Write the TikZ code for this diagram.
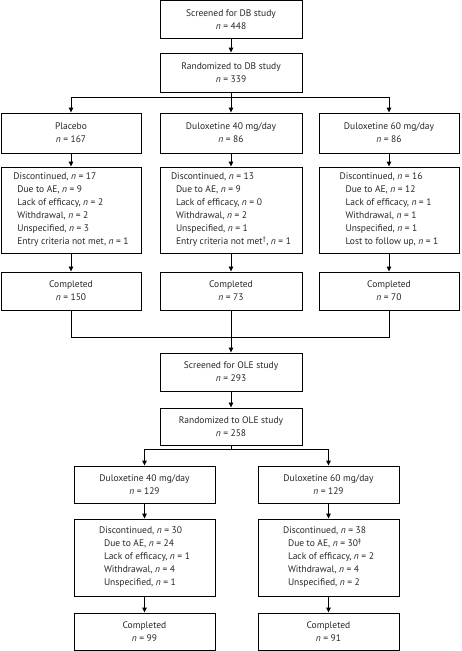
\documentclass[tikz,border=0pt]{standalone}
\usepackage{fontspec}
\setmainfont{PT Sans}
\usetikzlibrary{arrows.meta}
\begin{document}
\begin{tikzpicture}[x=1pt,y=-1pt,
  box/.style={draw=black,line width=0.9pt,text=black!85,font=\fontsize{9.5}{13}\selectfont,align=center,inner sep=0pt,minimum height=38pt},
  lbox/.style={box,align=left},
  con/.style={line width=0.9pt},
  arr/.style={con,-{Triangle[length=5pt,width=4.5pt]}}]
\useasboundingbox (0,0) rectangle (461,651);
\newcommand{\nn}{\textit{n}}
% DB study
\node[box,minimum width=142pt] (s1) at (231,19.5) {Screened for DB study\\\nn{} = 448};
\node[box,minimum width=142pt,minimum height=39pt] (r1) at (231,72.5) {Randomized to DB study\\\nn{} = 339};
\node[box,minimum width=140pt,minimum height=40pt] (p) at (71,133) {Placebo\\\nn{} = 167};
\node[box,minimum width=142pt,minimum height=40pt] (a40) at (231,133) {Duloxetine 40 mg/day\\\nn{} = 86};
\node[box,minimum width=140pt,minimum height=40pt] (a60) at (389,133) {Duloxetine 60 mg/day\\\nn{} = 86};
\node[lbox,minimum width=140pt,minimum height=86pt] (pd) at (71,210) {Discontinued, \nn{} = 17\\\hspace*{4pt}Due to AE, \nn{} = 9\\\hspace*{4pt}Lack of efficacy, \nn{} = 2\\\hspace*{4pt}Withdrawal, \nn{} = 2\\\hspace*{4pt}Unspecified, \nn{} = 3\\\hspace*{4pt}Entry criteria not met, \nn{} = 1};
\node[lbox,minimum width=142pt,minimum height=86pt] (d40) at (231,210) {Discontinued, \nn{} = 13\\\hspace*{5pt}Due to AE, \nn{} = 9\\\hspace*{5pt}Lack of efficacy, \nn{} = 0\\\hspace*{5pt}Withdrawal, \nn{} = 2\\\hspace*{5pt}Unspecified, \nn{} = 1\\\hspace*{5pt}Entry criteria not met\textsuperscript{†}, \nn{} = 1};
\node[lbox,minimum width=140pt,minimum height=86pt] (d60) at (389,210) {Discontinued, \nn{} = 16\\\hspace*{6pt}Due to AE, \nn{} = 12\\\hspace*{6pt}Lack of efficacy, \nn{} = 1\\\hspace*{6pt}Withdrawal, \nn{} = 1\\\hspace*{6pt}Unspecified, \nn{} = 1\\\hspace*{6pt}Lost to follow up, \nn{} = 1};
\node[box,minimum width=140pt] (pc) at (71,291) {Completed\\\nn{} = 150};
\node[box,minimum width=142pt] (c40) at (231,291) {Completed\\\nn{} = 73};
\node[box,minimum width=140pt] (c60) at (389,291) {Completed\\\nn{} = 70};
% OLE study
\node[box,minimum width=142pt] (so) at (231,372) {Screened for OLE study\\\nn{} = 293};
\node[box,minimum width=142pt,minimum height=37pt] (ro) at (231,426.5) {Randomized to OLE study\\\nn{} = 258};
\node[box,minimum width=141pt,minimum height=37pt] (o40) at (144.5,484.5) {Duloxetine 40 mg/day\\\nn{} = 129};
\node[box,minimum width=141pt,minimum height=37pt] (o60) at (328.5,484.5) {Duloxetine 60 mg/day\\\nn{} = 129};
\node[lbox,minimum width=141pt,minimum height=77pt] (od40) at (144.5,557.5) {Discontinued, \nn{} = 30\\\hspace*{5pt}Due to AE, \nn{} = 24\\\hspace*{5pt}Lack of efficacy, \nn{} = 1\\\hspace*{5pt}Withdrawal, \nn{} = 4\\\hspace*{5pt}Unspecified, \nn{} = 1};
\node[lbox,minimum width=141pt,minimum height=77pt] (od60) at (328.5,557.5) {Discontinued, \nn{} = 38\\\hspace*{5pt}Due to AE, \nn{} = 30\textsuperscript{‡}\\\hspace*{5pt}Lack of efficacy, \nn{} = 2\\\hspace*{5pt}Withdrawal, \nn{} = 4\\\hspace*{5pt}Unspecified, \nn{} = 2};
\node[box,minimum width=141pt,minimum height=37pt] (oc40) at (144.5,631.5) {Completed\\\nn{} = 99};
\node[box,minimum width=141pt,minimum height=37pt] (oc60) at (328.5,631.5) {Completed\\\nn{} = 91};
% connectors
\coordinate (b1) at (231,97);
\coordinate (b1l) at (71,97);
\coordinate (b1r) at (389,97);
\coordinate (j1) at (231,337);
\coordinate (j1l) at (71,337);
\coordinate (j1r) at (389,337);
\coordinate (b2) at (231,449);
\coordinate (b2l) at (144.5,449);
\coordinate (b2r) at (328.5,449);
\draw[arr] (s1) -- (r1);
\draw[con] (r1) -- (b1);
\draw[con] (b1l) -- (b1r);
\draw[arr] (b1l) -- (p);
\draw[arr] (b1) -- (a40);
\draw[arr] (b1r) -- (a60);
\draw[arr] (p) -- (pd);
\draw[arr] (a40) -- (d40);
\draw[arr] (a60) -- (d60);
\draw[arr] (pd) -- (pc);
\draw[arr] (d40) -- (c40);
\draw[arr] (d60) -- (c60);
\draw[con] (pc) -- (j1l) -- (j1r) -- (c60);
\draw[arr] (c40) -- (so);
\draw[arr] (so) -- (ro);
\draw[con] (ro) -- (b2);
\draw[con] (b2l) -- (b2r);
\draw[arr] (b2l) -- (o40);
\draw[arr] (b2r) -- (o60);
\draw[arr] (o40) -- (od40);
\draw[arr] (o60) -- (od60);
\draw[arr] (od40) -- (oc40);
\draw[arr] (od60) -- (oc60);
\end{tikzpicture}
\end{document}
